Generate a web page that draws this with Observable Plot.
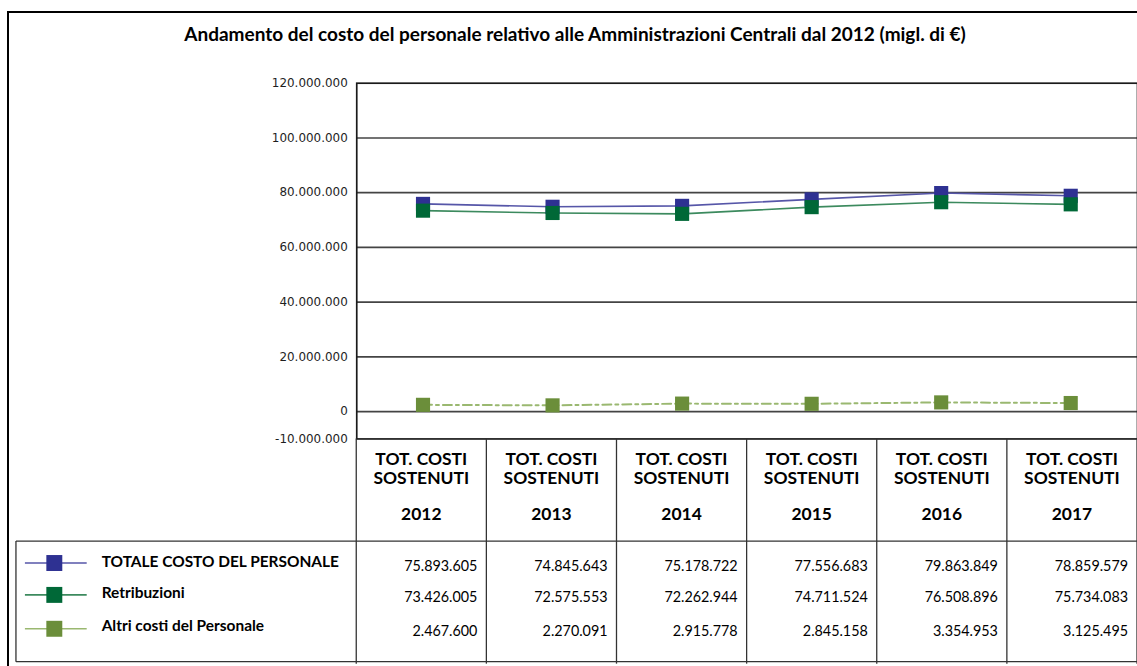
<!DOCTYPE html>
<html><head><meta charset="utf-8">
<script src="https://cdn.jsdelivr.net/npm/d3@7"></script>
<script src="https://cdn.jsdelivr.net/npm/@observablehq/plot@0.6"></script>
<style>
html,body{margin:0;padding:0;overflow:hidden;background:#fff;}
#wrap{position:relative;width:1137px;height:666px;overflow:hidden;}
#frame{position:absolute;left:7px;top:11px;width:1200px;height:700px;border-left:2.5px solid #000;border-top:2.5px solid #000;}
#title{position:absolute;left:0;width:1150px;top:22px;text-align:center;font:bold 19px Lato, sans-serif;color:#000;}
#chart{position:absolute;left:0;top:0;}
</style></head><body>
<div id="wrap"><div id="frame"></div>
<div id="title">Andamento del costo del personale relativo alle Amministrazioni Centrali dal 2012 (migl. di €)</div>
<div id="chart"></div></div>
<script>
const years = ["2012", "2013", "2014", "2015", "2016", "2017"];
const seriesNames = ["TOTALE COSTO DEL PERSONALE", "Retribuzioni", "Altri costi del Personale"];
const totale = [75893605, 74845643, 75178722, 77556683, 79863849, 78859579];
const retribuzioni = [73426005, 72575553, 72262944, 74711524, 76508896, 75734083];
const altri = [2467600, 2270091, 2915778, 2845158, 3354953, 3125495];
const yTicks = [-10000000, 0, 20000000, 40000000, 60000000, 80000000, 100000000, 120000000];
const gridTicks = [0, 20000000, 40000000, 60000000, 80000000, 100000000];
const headerLine1 = "TOT. COSTI";
const headerLine2 = "SOSTENUTI";

const markerColors = ["#2e3192", "#006837", "#6b8e3a"];
const lineColors = ["#5656a8", "#3c8a5e", "#9ab870"];
const dashes = [null, null, "9,4,3,4"];

const seriesValues = [totale, retribuzioni, altri];
const loc = d3.formatLocale({decimal: ",", thousands: ".", grouping: [3], currency: ["", "€"], minus: "-"});
const fmt = loc.format(",d");

const rows = seriesNames.flatMap((s, k) => years.map((y, i) => ({series: s, year: y, value: seriesValues[k][i], k})));

const lineMarks = seriesNames.map((s, k) => Plot.line(rows.filter(d => d.k === k), {
  x: "year", y: "value", stroke: lineColors[k], strokeWidth: k === 2 ? 2 : 1.6,
  strokeDasharray: dashes[k] || undefined
}));
const dotMarks = seriesNames.map((s, k) => Plot.dot(rows.filter(d => d.k === k), {
  x: "year", y: "value", symbol: "square", r: 8, fill: markerColors[k], stroke: "none"
}));

const W = 1141, H = 666;
const plot = Plot.plot({
  width: W, height: H,
  marginLeft: 357.5, marginRight: 0, marginTop: 83, marginBottom: 226,
  x: {type: "band", domain: years, padding: 0, axis: null},
  y: {domain: [-10000000, 120000000], axis: null},
  style: {background: "transparent", overflow: "visible"},
  marks: [
    Plot.ruleY(gridTicks, {stroke: "#444", strokeWidth: 1.6}),
    Plot.frame({stroke: "#1a1a1a", strokeWidth: 1.7}),
    Plot.axisY(yTicks, {tickFormat: fmt, tickSize: 0, tickPadding: 9, fontSize: 12, fontFamily: "DejaVu Sans", fill: "#1e1e1e", label: null}),
    ...lineMarks,
    ...dotMarks
  ]
});
document.getElementById("chart").appendChild(plot);

// data table below the plot, columns aligned on the plot's x scale
const xs = plot.scale("x");
const band = d3.scaleBand().domain(xs.domain).range(xs.range).padding(0);
const svg = d3.select(plot);
const g = svg.append("g").attr("class", "table").attr("text-anchor", "start");
const lineCol = "#333";
const tTop = 440, hBottom = 543, tBottom = 664;
const colEdges = years.map(y => band(y)).concat([band.range()[1]]);
colEdges.forEach(x => g.append("line").attr("x1", x).attr("x2", x).attr("y1", tTop).attr("y2", H)
  .attr("stroke", lineCol).attr("stroke-width", 1.3));
[hBottom, tBottom].forEach(y => g.append("line").attr("x1", 16).attr("x2", W).attr("y1", y).attr("y2", y)
  .attr("stroke", lineCol).attr("stroke-width", 1.3));
g.append("line").attr("x1", 16).attr("x2", 16).attr("y1", hBottom).attr("y2", tBottom)
  .attr("stroke", lineCol).attr("stroke-width", 1.3);

years.forEach(y => {
  const cx = band(y) + band.bandwidth() / 2;
  [[headerLine1, 466.5], [headerLine2, 486], [y, 521.5]].forEach(([t, ty]) => {
    g.append("text").attr("x", cx).attr("y", ty).attr("text-anchor", "middle")
      .attr("font-family", "Lato").attr("font-weight", "bold")
      .attr("font-size", 17.5).attr("fill", "#000").text(t);
  });
});

const rowY = [573, 604.5, 638.5];
const labelY = [569, 600.5, 633];
const markY = [565, 597, 631];
seriesNames.forEach((s, k) => {
  years.forEach((y, i) => {
    g.append("text").attr("x", band(y) + band.bandwidth() - 9).attr("y", rowY[k]).attr("text-anchor", "end")
      .attr("font-family", "Lato").attr("font-size", 14.4)
      .attr("fill", "#000").text(fmt(seriesValues[k][i]));
  });
  g.append("line").attr("x1", 25).attr("x2", 87).attr("y1", markY[k]).attr("y2", markY[k])
    .attr("stroke", lineColors[k]).attr("stroke-width", 1.6);
  g.append("rect").attr("x", 46.5).attr("y", markY[k] - 8).attr("width", 16).attr("height", 16)
    .attr("fill", markerColors[k]);
  g.append("text").attr("x", 102).attr("y", labelY[k]).attr("text-anchor", "start")
    .attr("font-family", "Lato").attr("font-weight", "bold").attr("font-size", 15.5).attr("fill", "#000").text(s);
});
</script>
</body></html>
